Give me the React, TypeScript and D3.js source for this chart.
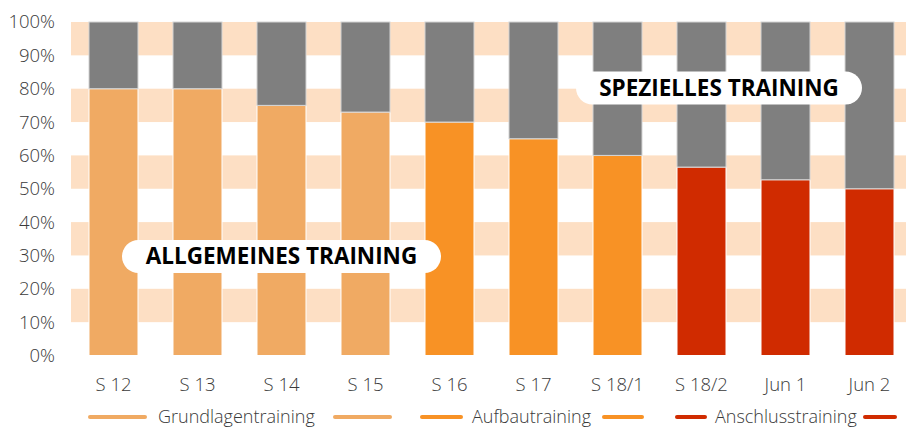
import React, { useEffect, useRef } from "react";
import * as d3 from "d3";

const categories = ["S 12", "S 13", "S 14", "S 15", "S 16", "S 17", "S 18/1", "S 18/2", "Jun 1", "Jun 2"];
const trainingShare = [80, 80, 75, 73, 70, 65, 60, 56.5, 52.7, 50];
const phases = [
  "Grundlagentraining", "Grundlagentraining", "Grundlagentraining", "Grundlagentraining",
  "Aufbautraining", "Aufbautraining", "Aufbautraining",
  "Anschlusstraining", "Anschlusstraining", "Anschlusstraining",
];
const phaseNames = ["Grundlagentraining", "Aufbautraining", "Anschlusstraining"];
const phaseColors = ["#f0aa63", "#f89225", "#d02b00"];
const yTicks = [0, 10, 20, 30, 40, 50, 60, 70, 80, 90, 100];

const W = 906;
const H = 430;
const FONT = "'Open Sans', sans-serif";

export default function App() {
  const ref = useRef<SVGSVGElement>(null);

  useEffect(() => {
    const svg = d3.select(ref.current);
    svg.selectAll("*").remove();

    const x = d3.scaleBand().domain(categories).range([71.5, 911.5]).paddingInner(0.4167).paddingOuter(0.2083);
    const y = d3.scaleLinear().domain([0, 100]).range([355.5, 22]);
    const color = d3.scaleOrdinal<string, string>().domain(phaseNames).range(phaseColors);

    const rows = categories.map((c, i) => ({ cat: c, main: trainingShare[i], rest: 100 - trainingShare[i], phase: phases[i] }));
    const stacked = d3.stack<any>().keys(["main", "rest"])(rows);

    // peach background bands (every other 10% step)
    const bands = yTicks.slice(0, -1).map((t, i) => [t, yTicks[i + 1]]).filter((_, i) => i % 2 === 1);
    svg.append("g").selectAll("rect").data(bands).enter().append("rect")
      .attr("x", 71).attr("width", W - 71)
      .attr("y", (d) => y(d[1])).attr("height", (d) => y(d[0]) - y(d[1]))
      .attr("fill", "#fddfc4");

    // stacked bars
    stacked.forEach((layer) => {
      svg.append("g").selectAll("rect").data(layer).enter().append("rect")
        .attr("x", (d: any) => x(d.data.cat)!)
        .attr("width", x.bandwidth())
        .attr("y", (d) => y(d[1]))
        .attr("height", (d) => y(d[0]) - y(d[1]))
        .attr("fill", (d: any) => (layer.key === "main" ? color(d.data.phase) : "#7f7f7f"))
        .attr("stroke", (layer.key === "main" ? "#ffffff" : "#d4d4d4"))
        .attr("stroke-width", 1);
    });

    const tickStyle = (sel: any, size: string) =>
      sel.style("font-family", FONT).style("font-size", size).style("font-weight", 300).attr("fill", "#3a3a3a");

    // y axis labels
    svg.append("g").selectAll("text").data(yTicks).enter().append("text")
      .attr("x", 55).attr("y", (d) => y(d)).attr("dy", "0.35em")
      .attr("text-anchor", "end")
      .call(tickStyle, "18.5px")
      .text((d) => `${d}%`);

    // x axis labels
    svg.append("g").selectAll("text").data(categories).enter().append("text")
      .attr("x", (d) => x(d)! + x.bandwidth() / 2).attr("y", 385).attr("dy", "0.35em")
      .attr("text-anchor", "middle")
      .call(tickStyle, "18.5px")
      .text((d) => d);

    // phase callouts
    const pills = [
      { text: "ALLGEMEINES TRAINING", x0: 122, x1: 441, cy: 256.5 },
      { text: "SPEZIELLES TRAINING", x0: 576, x1: 862, cy: 88 },
    ];
    pills.forEach((p) => {
      svg.append("rect")
        .attr("x", p.x0).attr("y", p.cy - 16.5).attr("width", p.x1 - p.x0).attr("height", 33)
        .attr("rx", 16.5).attr("fill", "#ffffff");
      svg.append("text")
        .attr("x", (p.x0 + p.x1) / 2).attr("y", p.cy).attr("dy", "0.35em")
        .attr("text-anchor", "middle")
        .style("font-family", FONT).style("font-size", "22.5px").style("font-weight", 700)
        .attr("fill", "#000000")
        .text(p.text);
    });

    // legend: line, label, trailing line for each phase
    const legendY = 417;
    const legend = [
      { lead: [88, 147], textX: 158, tail: [333, 392] },
      { lead: [420, 463], textX: 472, tail: [602, 644] },
      { lead: [675, 707], textX: 715, tail: [863, 897] },
    ];
    legend.forEach((l, i) => {
      const g = svg.append("g");
      [l.lead, l.tail].forEach((seg) => {
        g.append("line")
          .attr("x1", seg[0] + 2).attr("x2", seg[1] - 2)
          .attr("y1", legendY).attr("y2", legendY)
          .attr("stroke", phaseColors[i]).attr("stroke-width", 4).attr("stroke-linecap", "round");
      });
      g.append("text")
        .attr("x", l.textX).attr("y", legendY).attr("dy", "0.35em")
        .call(tickStyle, "18px")
        .text(phaseNames[i]);
    });
  }, []);

  return (
    <svg ref={ref} width={W} height={H} style={{ position: "absolute", left: 0, top: 0, background: "#fff" }} />
  );
}
